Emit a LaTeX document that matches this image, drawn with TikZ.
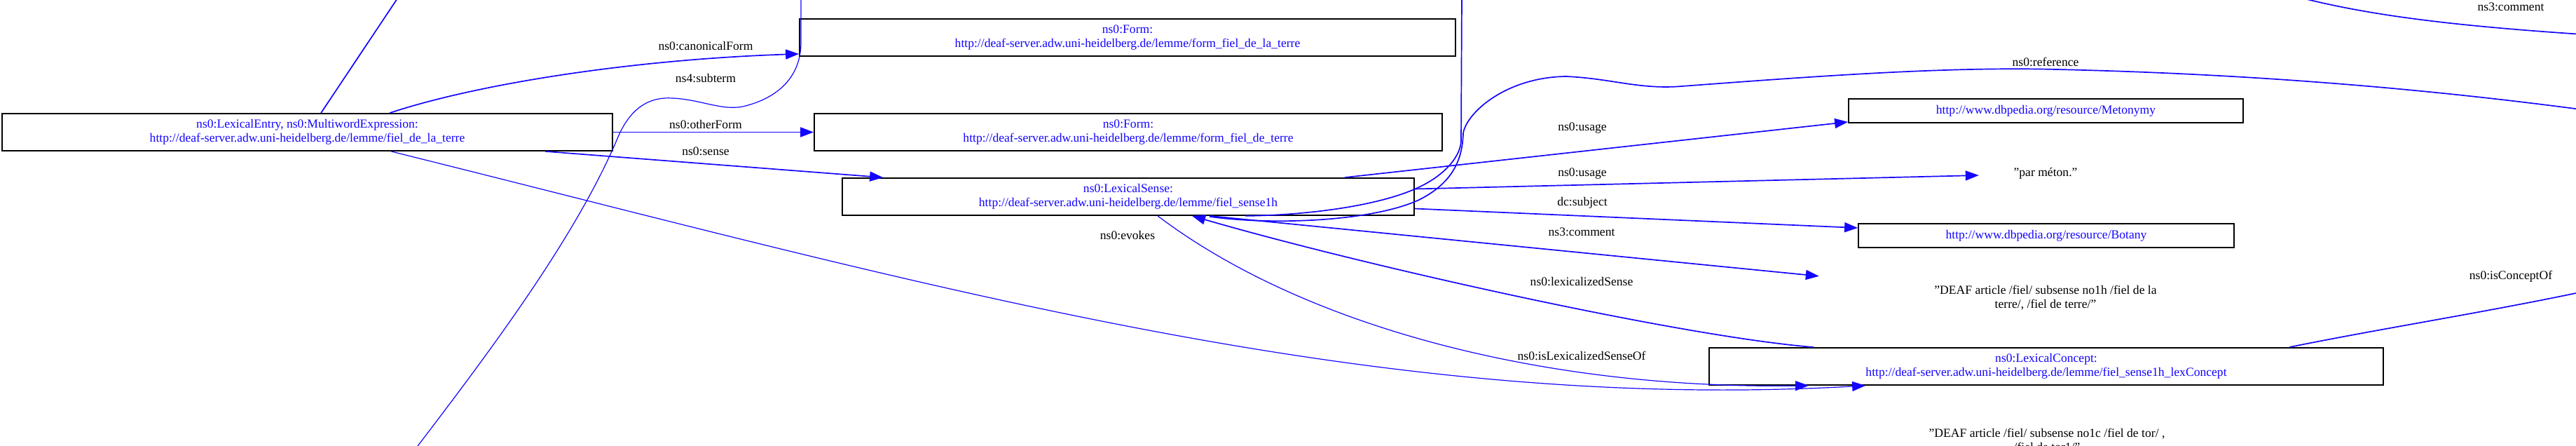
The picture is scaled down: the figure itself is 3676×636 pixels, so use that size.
\documentclass[tikz,border=0pt]{standalone}
\usepackage{fontspec}
\setmainfont{Liberation Serif}
\usetikzlibrary{arrows.meta,calc}
\newcommand\gfont{\fontsize{17.6}{20}\selectfont}
\definecolor{eblue}{RGB}{20,5,255}
\tikzset{
  box/.style={draw=black, line width=1.8pt, minimum height=53pt, inner sep=0pt, align=center, text=eblue, font=\gfont},
  smallbox/.style={box, minimum height=34pt},
  lit/.style={inner sep=0pt, align=center, text=black, font=\gfont},
  elab/.style={inner sep=0pt, text=black, font=\gfont},
  edge/.style={draw=eblue, line width=1.7pt, -{Triangle[length=19pt,width=14pt]}},
  plain/.style={draw=eblue, line width=1.7pt},
  thin/.style={draw=eblue, line width=1.2pt},
}
\begin{document}
\begin{tikzpicture}[x=1pt,y=-1pt]
\path[use as bounding box, fill=white] (0,0) rectangle (3676,636);
\clip (0,0) rectangle (3676,636);

% nodes
\node[box, minimum width=871pt] (entry) at (438.5,188.5) {ns0:LexicalEntry, ns0:MultiwordExpression:\\http://deaf-server.adw.uni-heidelberg.de/lemme/fiel\_de\_la\_terre};
\node[box, minimum width=936pt] (form1) at (1609,53.5) {ns0:Form:\\http://deaf-server.adw.uni-heidelberg.de/lemme/form\_fiel\_de\_la\_terre};
\node[box, minimum width=896pt] (form2) at (1610,188.5) {ns0:Form:\\http://deaf-server.adw.uni-heidelberg.de/lemme/form\_fiel\_de\_terre};
\node[box, minimum width=816pt] (sense) at (1610,280.5) {ns0:LexicalSense:\\http://deaf-server.adw.uni-heidelberg.de/lemme/fiel\_sense1h};
\node[smallbox, minimum width=563pt] (meto) at (2919.5,158) {http://www.dbpedia.org/resource/Metonymy};
\node[lit, minimum width=190pt] (parlit) at (2919,247) {"par méton."};
\node[smallbox, minimum width=536pt] (botany) at (2920,336) {http://www.dbpedia.org/resource/Botany};
\node[lit, minimum width=646pt, minimum height=53pt] (comlit) at (2919,424.5) {"DEAF article /fiel/ subsense no1h /fiel de la\\terre/, /fiel de terre/"};
\node[box, minimum width=962pt] (concept) at (2920,522.5) {ns0:LexicalConcept:\\http://deaf-server.adw.uni-heidelberg.de/lemme/fiel\_sense1h\_lexConcept};
\node[lit] (botlit) at (2921,627.5) {"DEAF article /fiel/ subsense no1c /fiel de tor/ ,\\/fiel de tor1/"};

% edge labels
\node[elab] (lcan) at (1007,66) {ns0:canonicalForm};
\node[elab] (lsub) at (1007,112) {ns4:subterm};
\node[elab] (loth) at (1007,178) {ns0:otherForm};
\node[elab] (lsen) at (1007,216) {ns0:sense};
\node[elab] (levo) at (1609,336) {ns0:evokes};
\node[elab] (lref) at (2919,88) {ns0:reference};
\node[elab] (lus1) at (2258,183) {ns0:usage};
\node[elab] (lus2) at (2258,248) {ns0:usage};
\node[elab] (lsubj) at (2258,289) {dc:subject};
\node[elab] (lcom) at (2257,331) {ns3:comment};
\node[elab] (llex) at (2257,402) {ns0:lexicalizedSense};
\node[elab] (lisl) at (2257,507) {ns0:isLexicalizedSenseOf};
\node[elab] (lcom2) at (3583,10) {ns3:comment};
\node[elab] (lisc) at (3583,394) {ns0:isConceptOf};

% free ends
\coordinate (topline) at (569,-5);
\coordinate (subA) at (593,640);
\coordinate (subB) at (1143,-5);
\coordinate (topA) at (2086,-5);
\coordinate (refend) at (3690,157);
\coordinate (iscend) at (3700,413);
\coordinate (trA) at (3276,-5);
\coordinate (trB) at (3700,50);

% edges
\draw[edge] ($(entry.north west)+(554,0)$) .. controls (680,120) and (900,85) .. ($(form1.south west)+(0,-4)$);
\draw[edge] (entry.east) -- (form2.west);
\draw[edge] ($(entry.south west)+(776,0)$) -- ($(sense.north west)+(59,0)$);
\draw[plain] ($(entry.north west)+(456,0)$) -- (topline);
\draw[thin] (subA) .. controls (700,500) and (820,340) .. (880,200)
  .. controls (900,150) and (930,138) .. (960,140)
  .. controls (1000,142) and (1030,158) .. (1060,152)
  .. controls (1110,140) and (1143,110) .. (1143,60) -- (subB);
\draw[thin, -{Triangle[length=19pt,width=14pt]}] ($(entry.south west)+(556,0)$) .. controls (1300,400) and (1950,590) .. ($(concept.south west)+(224,0)$);
\draw[thin, -{Triangle[length=19pt,width=14pt]}] ($(sense.south west)+(451,0)$) .. controls (1860,465) and (2200,555) .. ($(concept.south west)+(143,0)$);
\draw[edge] ($(concept.north west)+(150,0)$) .. controls (2400,480) and (1950,380) .. ($(sense.south west)+(500,0)$);
\draw[edge] ($(sense.south west)+(525,0)$) -- ($(comlit.north west)+(0,-4)$);
\draw[edge] ($(sense.east)+(0,17)$) -- ($(botany.west)+(0,-11)$);
\draw[edge] ($(sense.east)+(0,-11)$) -- ($(parlit.west)+(0,3)$);
\draw[edge] ($(sense.north east)+(-100,0)$) -- ($(meto.south west)+(0,-2)$);
% loops at the sense node
\draw[plain] (topA) -- (2085,200) .. controls (2085,220) and (2065,250) .. (2018,270)
  .. controls (1960,295) and (1860,307) .. ($(sense.south west)+(576,0)$);
\draw[plain] ($(sense.south west)+(525,1)$) .. controls (1820,322) and (1960,315) .. (2025,285)
  .. controls (2075,260) and (2087,225) .. (2088,190)
  .. controls (2093,160) and (2150,110) .. (2235,109)
  .. controls (2300,112) and (2340,128) .. (2400,123)
  .. controls (2600,108) and (2780,95) .. (2934,99)
  .. controls (3200,105) and (3450,125) .. (refend);
\draw[plain] ($(concept.north east)+(-135,0)$) .. controls (3400,468) and (3550,445) .. (iscend);
\draw[plain] (trA) .. controls (3380,22) and (3500,37) .. (trB);
\end{tikzpicture}
\end{document}
